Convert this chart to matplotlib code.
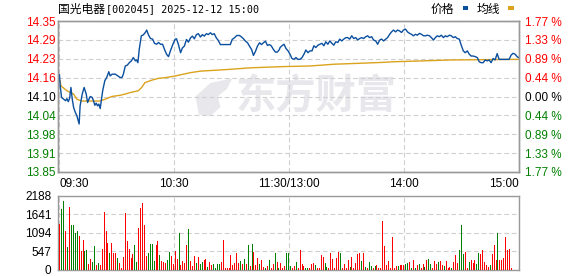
import numpy as np
import matplotlib
matplotlib.use("Agg")
from matplotlib import pyplot as plt
from matplotlib.patches import Rectangle, Polygon

# ---- data ----
PREV_CLOSE = 14.10
PRICE_TOP = 14.35
VOL_MAX = 2188
TIME_LABELS = ["09:30", "10:30", "11:30/13:00", "14:00", "15:00"]
TIME_TICKS = [0, 60, 120, 180, 240]

# minutes since 09:30 (trading time) and price
price_t = [0.0, 0.4, 1.1, 2.2, 3.2, 3.9, 4.6, 5.3, 6.0, 6.7, 7.4, 8.2, 9.1, 10.3, 10.8, 11.9, 12.9,
           14.0, 14.7, 15.4, 16.1, 17.1, 17.8, 18.5, 19.2, 19.9, 20.6, 21.3, 22.0, 22.6, 23.7, 24.7,
           25.8, 26.5, 27.5, 29.2, 30.6, 31.7, 32.7, 33.4, 34.4, 35.5, 36.5, 37.6, 38.6, 39.7, 40.3,
           41.0, 41.7, 42.8, 43.8, 44.9, 45.6, 46.6, 47.6, 48.7, 49.7, 50.8, 51.8, 52.8, 53.9, 54.9,
           56.0, 57.0, 58.0, 59.1, 60.5,
           61.2, 62.2, 63.3, 64.3, 65.3, 66.4, 67.4, 68.5, 69.5, 70.5, 71.6, 72.6, 73.7, 74.7, 75.7,
           76.8, 77.8, 78.9, 79.9, 80.9, 82.0, 83.0, 84.1, 89.3, 90.3, 91.4, 92.7, 94.1, 95.2, 96.2,
           97.3, 98.3, 99.3, 100.4, 101.4, 102.5, 103.5, 104.6, 105.6, 106.6, 107.7, 108.7, 109.8,
           110.8, 111.8, 112.9, 113.9, 115.0,
           115.3, 116.3, 117.4, 118.4, 119.5, 120.5, 121.5, 122.6, 123.6, 124.7, 125.7, 126.8, 127.8,
           128.8, 129.9, 130.9, 132.0, 133.0, 134.0, 135.1, 136.1, 137.2, 138.2, 139.2, 140.3, 141.3,
           142.4, 143.4, 144.4, 145.5, 146.5, 147.6, 148.6, 149.7, 150.7, 151.7, 152.8, 153.8, 154.9,
           155.9, 156.9, 158.0, 159.0, 160.1, 161.1, 162.1, 163.2, 164.2, 165.3, 166.3, 167.4, 168.4,
           169.4, 170.5, 171.5, 172.6, 173.6, 174.6, 175.7, 176.7, 177.8, 178.8, 179.8, 180.9, 181.9,
           183.0, 184.0, 185.0, 186.1, 187.1, 188.2, 189.2, 190.3, 191.3, 192.3, 193.4, 194.4, 195.5,
           196.5, 197.5, 198.6, 199.6, 200.7, 201.7, 202.7, 203.8, 204.8, 205.9, 206.9, 207.9, 209.0,
           210.0, 211.1, 212.1, 213.2, 214.2, 215.2, 216.3, 217.3, 218.4, 219.4, 220.4, 221.5, 222.5,
           223.6, 224.6, 225.6, 226.7, 227.7, 228.8, 229.8, 231.9, 234.0, 235.0, 236.1, 237.1, 238.2,
           239.2, 239.9]
price = [14.172, 14.135, 14.097, 14.091, 14.086, 14.093, 14.083, 14.093, 14.130, 14.091, 14.064,
         14.049, 14.036, 14.009, 14.069, 14.108, 14.130, 14.108, 14.080, 14.091, 14.100, 14.097,
         14.086, 14.071, 14.078, 14.069, 14.075, 14.060, 14.091, 14.119, 14.152, 14.163, 14.182,
         14.168, 14.174, 14.174, 14.168, 14.163, 14.163, 14.174, 14.201, 14.204, 14.212, 14.218,
         14.229, 14.218, 14.221, 14.212, 14.256, 14.301, 14.304, 14.312, 14.320, 14.303, 14.292,
         14.290, 14.276, 14.273, 14.279, 14.273, 14.273, 14.256, 14.240, 14.232, 14.251, 14.270,
         14.290,
         14.291, 14.272, 14.245, 14.261, 14.267, 14.289, 14.280, 14.294, 14.300, 14.291, 14.305,
         14.308, 14.297, 14.305, 14.300, 14.308, 14.305, 14.311, 14.305, 14.308, 14.294, 14.286,
         14.272, 14.272, 14.289, 14.294, 14.302, 14.302, 14.297, 14.291, 14.283, 14.278, 14.267,
         14.256, 14.236, 14.250, 14.267, 14.278, 14.272, 14.278, 14.283, 14.269, 14.272, 14.267,
         14.256, 14.247, 14.247, 14.256,
         14.262, 14.268, 14.273, 14.259, 14.251, 14.240, 14.226, 14.223, 14.229, 14.223, 14.223,
         14.229, 14.240, 14.254, 14.245, 14.251, 14.251, 14.268, 14.262, 14.270, 14.273, 14.276,
         14.268, 14.281, 14.273, 14.284, 14.276, 14.270, 14.281, 14.279, 14.290, 14.284, 14.290,
         14.295, 14.295, 14.290, 14.301, 14.292, 14.295, 14.287, 14.292, 14.295, 14.292, 14.298,
         14.301, 14.295, 14.298, 14.287, 14.284, 14.273, 14.287, 14.290, 14.284, 14.290, 14.295,
         14.306, 14.314, 14.320, 14.314, 14.320, 14.317, 14.312, 14.320, 14.323, 14.314, 14.309,
         14.306, 14.301, 14.306, 14.303, 14.309, 14.306, 14.301, 14.301, 14.303, 14.301, 14.295,
         14.287, 14.295, 14.301, 14.298, 14.303, 14.295, 14.301, 14.298, 14.303, 14.301, 14.295,
         14.298, 14.292, 14.290, 14.270, 14.251, 14.245, 14.251, 14.240, 14.234, 14.234, 14.232,
         14.229, 14.215, 14.212, 14.212, 14.221, 14.218, 14.221, 14.212, 14.226, 14.221, 14.242,
         14.223, 14.223, 14.223, 14.223, 14.237, 14.243, 14.240, 14.232, 14.229]

avg_t = [0.3, 0.8, 3.9, 7.4, 9.1, 11.7, 21.3, 23.9, 27.3, 31.7, 34.3, 36.9, 41.2, 43.0, 44.7, 48.2,
         51.6, 56.0, 60.5, 68.5, 73.7, 89.3, 99.7, 117.0, 130.9, 143.9, 157.0, 169.1, 174.3, 189.9,
         204.7, 239.9]
avg_price = [14.152, 14.135, 14.119, 14.108, 14.091, 14.085, 14.085, 14.091, 14.100, 14.104, 14.108,
             14.113, 14.119, 14.130, 14.146, 14.154, 14.160, 14.163, 14.168, 14.179, 14.184, 14.190,
             14.195, 14.199, 14.201, 14.207, 14.210, 14.213, 14.215, 14.218, 14.221, 14.223]

# per-minute volume, 09:30 .. 15:00; negative = down minute (green), positive = up (red)
volume = [
    1340, -1790, -2030, 1160, -660, 1850, -1310, -1310, -1075, -1135, 985, 565, 865, -565, -585,
    150, 300, -210, -685, 120, -180, 120, 625, 1700, 1135, 775, -480, 775, 505, 480, -330, 180, 30,
    360, 1670, 835, 625, 330, 450, -715, -210, 1225, 1820, 1970, 1310, 390, -505, -745, -745, -240,
    715, 835, -420, 240, 210, 180, -270, -535, 390, 150, 565,
    300, -1075, 120, 240, 180, 715, -1195, 240, 90, 390, -180, 360, -150, -210, 270, 300, -60, 210,
    120, -150, -30, -150, -150, 210, 865, 30, 30, 30, 420, 120, 180, 505, 180, -240, 150, -300, 150,
    -715, 90, -745, 535, 120, 330, -150, 270, 60, -30, 90, -270, 30, 150, -505, 210, -30, 180, 30,
    90, -480, -480,
    -90, 30, 90, -210, 30, 595, 150, 90, -30, -30, 30, 150, 180, -120, 30, 30, 420, 360, -180, -60,
    30, 505, 300, 30, 330, 535, -480, 30, 150, 30, 270, -60, 360, 30, 180, 450, 480, -240, 505, -60,
    30, -210, -90, 30, -90, 120, 30, 30, 1435, 685, 120, 240, 30, 955, 30, 90, -90, 120, 120, 120,
    -150, -180,
    210, -30, 270, -30, 120, -150, 30, 150, -60, 270, -300, -150, 30, 240, 150, -210, 240, 120, -90,
    240, 30, 60, -30, 210, 420, 180, -595, -1310, -450, 535, 30, -210, 270, 180, 270, -150, -480,
    450, 595, 210, 120, 60, -120, 450, 715, 270, -1075, 270, 270, 330, 955, 595, 625, 30, 0, 0, 0,
    -1340,
]

RED, GREEN, BLACK = "#ff0000", "#008000", "#000000"
BLUE, GOLD = "#0b4f9f", "#dba21c"
GRID = "#cfcfcf"
SPINE = "#9a9a9a"
NUM_FONT = "Liberation Sans"
CJK = ["Noto Sans CJK SC", "DejaVu Sans"]

W, H = 578, 276
fig = plt.figure(figsize=(W / 100, H / 100), dpi=100)
L, R = 58.3, 519.0
ax = fig.add_axes([L / W, 1 - 172 / H, (R - L) / W, 151 / H])
axv = fig.add_axes([L / W, 1 - 269.5 / H, (R - L) / W, 73.5 / H])

price_ticks = np.linspace(2 * PREV_CLOSE - PRICE_TOP, PRICE_TOP, 9)


def side_color(v):
    if abs(v - PREV_CLOSE) < 1e-6:
        return BLACK
    return RED if v > PREV_CLOSE else GREEN


def style_axes(a):
    for s in a.spines.values():
        s.set_color(SPINE)
        s.set_linewidth(1.0)
    a.tick_params(length=0)
    a.set_xlim(-0.6, 240.2)
    a.set_xticks(TIME_TICKS)
    a.grid(True, color=GRID, linewidth=0.8, linestyle=(0, (4.2, 2.6)))
    a.set_axisbelow(True)


# ---- price panel ----
style_axes(ax)
ax.set_ylim(price_ticks[0], price_ticks[-1])
ax.set_yticks(price_ticks)
ax.set_yticklabels([f"{v + 1e-9:.2f}" for v in price_ticks], fontfamily=NUM_FONT, fontsize=8.5)
for lab, v in zip(ax.get_yticklabels(), price_ticks):
    lab.set_color(side_color(v))
ax.tick_params(axis="y", pad=2)
ax.set_xticklabels(TIME_LABELS, fontfamily=NUM_FONT, fontsize=8.5)
ax.tick_params(axis="x", pad=4)
xl = ax.get_xticklabels()
xl[0].set_ha("left")
xl[-1].set_ha("right")

ax.plot(price_t, price, color=BLUE, linewidth=1.0, zorder=3)
ax.plot(avg_t, avg_price, color=GOLD, linewidth=1.0, zorder=2)

# watermark
ax.text(0.56, 0.5, "东方财富", transform=ax.transAxes, ha="center", va="center",
        fontsize=29, fontweight="bold", family=CJK, color="#e8e8ec", zorder=0)
ax.add_patch(Polygon([(0.305, 0.38), (0.298, 0.50), (0.33, 0.59), (0.378, 0.62), (0.366, 0.55),
                      (0.346, 0.50), (0.352, 0.43), (0.33, 0.37)],
                     closed=True, transform=ax.transAxes, color="#e8e8ec", zorder=0, lw=0))

axr = ax.twinx()
axr.set_ylim(ax.get_ylim())
axr.set_yticks(price_ticks)
axr.set_yticklabels([f"{abs(v - PREV_CLOSE) / PREV_CLOSE * 100:.2f} %" for v in price_ticks],
                    fontfamily=NUM_FONT, fontsize=8.5)
for lab, v in zip(axr.get_yticklabels(), price_ticks):
    lab.set_color(side_color(v))
axr.tick_params(length=0, pad=4)
for s in axr.spines.values():
    s.set_color(SPINE)
    s.set_linewidth(1.0)

# ---- volume panel ----
style_axes(axv)
axv.set_xticklabels([])
vol_ticks = np.linspace(0, VOL_MAX, 5)
axv.set_ylim(0, VOL_MAX)
axv.set_yticks(vol_ticks)
axv.set_yticklabels([f"{int(round(v))}" for v in vol_ticks], fontfamily=NUM_FONT, fontsize=8.5)
axv.tick_params(axis="y", pad=5)
vol = np.array(volume)
bar_x = np.linspace(0, 240, len(vol))
bar_colors = [GREEN if v < 0 else RED for v in vol]
axv.vlines(bar_x, 0, np.abs(vol), colors=bar_colors, linewidth=0.72, antialiased=False, zorder=3)

# ---- title and legend ----
fig.text(L / W, 1 - 9 / H, "国光电器", family=CJK, fontsize=8.5, va="center", ha="left")
fig.text(106 / W, 1 - 9 / H, "[002045] 2025-12-12 15:00", family="DejaVu Sans Mono",
         fontsize=7.3, va="center", ha="left")
fig.text(431 / W, 1 - 9 / H, "价格", family=CJK, fontsize=8.5, va="center", ha="left")
fig.text(477 / W, 1 - 9 / H, "均线", family=CJK, fontsize=8.5, va="center", ha="left")
fig.patches.append(Rectangle((462.5 / W, 1 - 9.5 / H), 5.5 / W, 3 / H, transform=fig.transFigure,
                             color=BLUE, lw=0))
fig.patches.append(Rectangle((508 / W, 1 - 9.5 / H), 5.5 / W, 3 / H, transform=fig.transFigure,
                             color=GOLD, lw=0))

fig.savefig("out.png", dpi=100)
